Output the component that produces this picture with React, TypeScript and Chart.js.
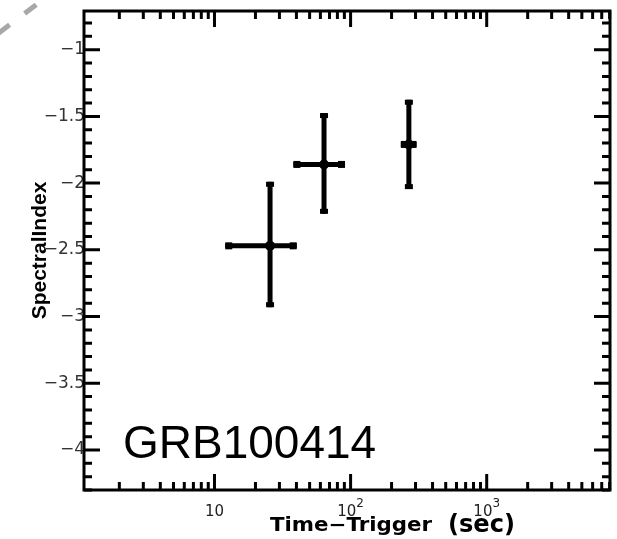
import React, { useEffect, useRef } from 'react';
import { Chart, registerables } from 'chart.js';

Chart.register(...registerables);

// ---- data ----
const times = [25.6, 63.8, 268];
const timeLow = [12.0, 38.0, 234];
const timeHigh = [40.2, 91.0, 305];
const spectralIndex = [-2.47, -1.86, -1.71];
const indexLow = [-2.93, -2.23, -2.045];
const indexHigh = [-1.99, -1.475, -1.375];

const yTickValues = [-4, -3.5, -3, -2.5, -2, -1.5, -1];
const xTickValues = [10, 100, 1000];
const xTickBase = ['10', '10', '10'];
const xTickExp = ['', '2', '3'];

const xMin = 1.1;
const xMax = 8050;
const yMin = -4.3;
const yMax = -0.71;

const burstLabel = 'GRB100414';
const xTitleMain = 'Time−Trigger';
const xTitleUnit = '(sec)';
const yTitle = 'SpectralIndex';

const decorPlugin = {
  id: 'decor',
  beforeDatasetsDraw(chart: any) {
    const ctx = chart.ctx;
    const xs = chart.scales.x;
    const ys = chart.scales.y;
    ctx.save();
    ctx.fillStyle = '#000';
    ctx.strokeStyle = '#000';
    ctx.lineCap = 'butt';
    for (let i = 0; i < times.length; i++) {
      const cx = xs.getPixelForValue(times[i]);
      const cy = ys.getPixelForValue(spectralIndex[i]);
      const xl = xs.getPixelForValue(timeLow[i]);
      const xh = xs.getPixelForValue(timeHigh[i]);
      const yl = ys.getPixelForValue(indexLow[i]);
      const yh = ys.getPixelForValue(indexHigh[i]);
      ctx.lineWidth = 5;
      ctx.beginPath();
      ctx.moveTo(xl, cy);
      ctx.lineTo(xh, cy);
      ctx.moveTo(cx, yl);
      ctx.lineTo(cx, yh);
      ctx.stroke();
      // end caps
      ctx.fillRect(xl, cy - 3.5, 7, 7);
      ctx.fillRect(xh - 7, cy - 3.5, 7, 7);
      ctx.fillRect(cx - 4, yh, 8, 5);
      ctx.fillRect(cx - 4, yl - 5, 8, 5);
    }
    ctx.restore();
  },
  afterDraw(chart: any) {
    const ctx = chart.ctx;
    const { left, right, top, bottom } = chart.chartArea;
    const xs = chart.scales.x;
    const ys = chart.scales.y;
    ctx.save();
    ctx.strokeStyle = '#000';
    ctx.lineCap = 'butt';

    // inward ticks on all four sides
    ctx.lineWidth = 3;
    ctx.beginPath();
    for (let k = Math.ceil(yMin * 10); k <= Math.floor(yMax * 10); k++) {
      const v = k / 10;
      const major = k % 5 === 0;
      const len = major ? 16 : 8;
      const py = ys.getPixelForValue(v);
      ctx.moveTo(left, py);
      ctx.lineTo(left + len, py);
      ctx.moveTo(right, py);
      ctx.lineTo(right - len, py);
    }
    for (let d = 0; d <= 4; d++) {
      for (let m = 1; m <= 9; m++) {
        const v = m * Math.pow(10, d);
        if (v < xMin || v > xMax) continue;
        const major = m === 1;
        const len = major ? 16 : 8;
        const px = xs.getPixelForValue(v);
        ctx.moveTo(px, bottom);
        ctx.lineTo(px, bottom - len);
        ctx.moveTo(px, top);
        ctx.lineTo(px, top + len);
      }
    }
    ctx.stroke();

    // frame
    ctx.lineWidth = 3;
    ctx.strokeRect(left, top, right - left, bottom - top);

    // x tick labels with superscript exponents
    ctx.fillStyle = '#222';
    ctx.textBaseline = 'alphabetic';
    ctx.textAlign = 'left';
    for (let i = 0; i < xTickValues.length; i++) {
      const px = xs.getPixelForValue(xTickValues[i]);
      ctx.font = '15px "DejaVu Sans", sans-serif';
      const bw = ctx.measureText(xTickBase[i]).width;
      ctx.font = '12px "DejaVu Sans", sans-serif';
      const ew = xTickExp[i] ? ctx.measureText(xTickExp[i]).width : 0;
      const x0 = px - (bw + ew) / 2;
      ctx.font = '15px "DejaVu Sans", sans-serif';
      ctx.fillText(xTickBase[i], x0, bottom + 26);
      if (xTickExp[i]) {
        ctx.font = '12px "DejaVu Sans", sans-serif';
        ctx.fillText(xTickExp[i], x0 + bw, bottom + 17);
      }
    }

    // burst label
    ctx.fillStyle = '#000';
    ctx.font = '46px "Liberation Sans", Arial, sans-serif';
    ctx.textAlign = 'left';
    ctx.textBaseline = 'alphabetic';
    ctx.fillText(burstLabel, left + 39, bottom - 32);

    // x axis title, two sizes
    ctx.font = 'bold 19px "DejaVu Sans", sans-serif';
    let w = ctx.measureText(xTitleMain).width;
    ctx.save();
    ctx.translate(270, 531);
    ctx.scale(162 / w, 1);
    ctx.fillText(xTitleMain, 0, 0);
    ctx.restore();
    ctx.font = 'bold 24px "DejaVu Sans", sans-serif';
    w = ctx.measureText(xTitleUnit).width;
    ctx.save();
    ctx.translate(448, 532);
    ctx.scale(67 / w, 1);
    ctx.fillText(xTitleUnit, 0, 0);
    ctx.restore();

    // grey dashed stroke in the corner
    ctx.strokeStyle = '#a8a8a8';
    ctx.lineWidth = 5;
    ctx.setLineDash([14.5, 18.75]);
    ctx.beginPath();
    ctx.moveTo(-2, 33.5);
    ctx.lineTo(60, -13);
    ctx.stroke();
    ctx.restore();
  },
};

export default function App() {
  const ref = useRef<HTMLCanvasElement | null>(null);
  useEffect(() => {
    if (!ref.current) return;
    const chart = new Chart(ref.current, {
      type: 'scatter',
      data: {
        datasets: [
          {
            data: times.map((t, i) => ({ x: t, y: spectralIndex[i] })),
            pointRadius: 5,
            pointBackgroundColor: '#000',
            pointBorderColor: '#000',
            pointBorderWidth: 0,
            showLine: false,
          },
        ],
      },
      options: {
        animation: false,
        responsive: false,
        layout: { padding: { top: 11, right: 7, left: 0, bottom: 0 } },
        plugins: { legend: { display: false }, tooltip: { enabled: false } },
        scales: {
          x: {
            type: 'logarithmic',
            min: xMin,
            max: xMax,
            grid: { display: false, drawTicks: false },
            border: { display: false },
            afterBuildTicks: (s: any) => {
              s.ticks = xTickValues.map((v) => ({ value: v }));
            },
            ticks: { display: false },
            afterFit: (s: any) => {
              s.height = 49;
            },
          },
          y: {
            type: 'linear',
            min: yMin,
            max: yMax,
            grid: { display: false, drawTicks: false },
            border: { display: false },
            afterBuildTicks: (s: any) => {
              s.ticks = yTickValues.map((v) => ({ value: v }));
            },
            ticks: {
              autoSkip: false,
              padding: -1,
              color: '#333',
              font: { family: '"DejaVu Sans", sans-serif', size: 17 },
              callback: (v: any) => String(v).replace('-', '−'),
            },
            title: {
              display: true,
              text: yTitle,
              color: '#000',
              font: { family: '"Liberation Sans", Arial, sans-serif', size: 21, weight: 'bold' },
              padding: { top: 28, bottom: 0 },
            },
            afterFit: (s: any) => {
              s.width = 84;
            },
          },
        },
      },
      plugins: [decorPlugin],
    } as any);
    return () => chart.destroy();
  }, []);
  return (
    <div style={{ position: 'absolute', left: 0, top: 0, width: 617, height: 539, background: '#fff' }}>
      <canvas ref={ref} width={617} height={539} style={{ display: 'block' }} />
    </div>
  );
}
